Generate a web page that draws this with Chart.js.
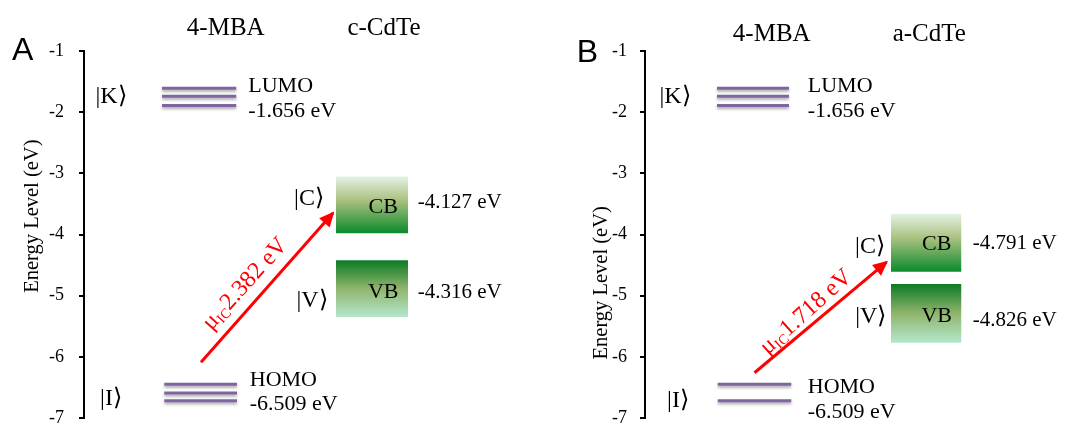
<!DOCTYPE html>
<html>
<head>
<meta charset="utf-8">
<script src="https://cdn.jsdelivr.net/npm/chart.js@4.4.1/dist/chart.umd.min.js"></script>
<style>
  html, body { margin: 0; padding: 0; background: #fff; }
  #wrap { position: relative; width: 1068px; height: 426px; }
  canvas { position: absolute; top: 0; }
  #panelA { left: 0; }
  #panelB { left: 534px; }
</style>
</head>
<body>
<div id="wrap">
  <canvas id="panelA" width="534" height="426"></canvas>
  <canvas id="panelB" width="534" height="426"></canvas>
</div>
<script>
const yTicks = [-1, -2, -3, -4, -5, -6, -7];

// Panel A: 4-MBA / c-CdTe
const lumoLevelsA = [-1.61, -1.74, -1.89];
const homoLevelsA = [-6.45, -6.59, -6.72];
const lumoSpanA = [1.04, 2.03];
const homoSpanA = [1.07, 2.04];
const bandSpanA = [3.36, 4.32];
const cbA = [-3.05, -3.98];
const vbA = [-4.42, -5.35];
const arrowXA = [1.56, 3.32];
const arrowYA = [-6.09, -3.65];
const energyLabelsA = ['-1.656 eV', '-6.509 eV', '-4.127 eV', '-4.316 eV'];
const gapA = '2.382 eV';

// Panel B: 4-MBA / a-CdTe
const lumoLevelsB = [-1.61, -1.74, -1.89];
const homoLevelsB = [-6.45, -6.72];
const lumoSpanB = [0.96, 1.92];
const homoSpanB = [0.97, 1.95];
const bandSpanB = [3.28, 4.22];
const cbB = [-3.66, -4.61];
const vbB = [-4.81, -5.77];
const arrowXB = [1.46, 3.22];
const arrowYB = [-6.26, -4.45];
const energyLabelsB = ['-1.656 eV', '-6.509 eV', '-4.791 eV', '-4.826 eV'];
const gapB = '1.718 eV';

const SERIF = "'Liberation Serif', 'Times New Roman', serif";
const SANS = "'Liberation Sans', Arial, sans-serif";
const PURPLE = '#8064a2';
const CB_STOPS = [[0, '#e4f2e4'], [0.42, '#a9c17f'], [1, '#0b8a2c']];
const VB_STOPS = [[0, '#0c7a24'], [0.5, '#8fb56c'], [1, '#b4e7cd']];

function bandFill(top, bottom, stops) {
  return (context) => {
    const chart = context.chart;
    const y = chart.scales.y;
    if (!chart.chartArea || !y) return stops[1][1];
    const g = chart.ctx.createLinearGradient(0, y.getPixelForValue(top), 0, y.getPixelForValue(bottom));
    stops.forEach(s => g.addColorStop(s[0], s[1]));
    return g;
  };
}

function levelSet(span, e) {
  return {
    data: [{ x: span[0], y: e }, { x: span[1], y: e }],
    borderColor: PURPLE, borderWidth: 3, pointRadius: 0, shadow: true
  };
}

function bandSet(span, edges, stops) {
  return {
    data: [{ x: span[0], y: edges[0] }, { x: span[1], y: edges[0] }],
    fill: { value: edges[1] },
    backgroundColor: bandFill(edges[0], edges[1], stops),
    borderColor: 'rgba(0,0,0,0)', borderWidth: 0, pointRadius: 0
  };
}

function arrowSet(xs, ys) {
  return {
    data: xs.map((x, i) => ({ x, y: ys[i] })),
    borderColor: '#ff0000', borderWidth: 3, pointRadius: 0, arrow: true
  };
}

function drawNotes(chart, notes) {
  const { ctx, scales: { x, y } } = chart;
  notes.forEach(n => {
    const px = x.getPixelForValue(n.x), py = y.getPixelForValue(n.y);
    const parts = n.parts || [{ t: n.t }];
    ctx.save();
    ctx.translate(px, py);
    if (n.rot) ctx.rotate(n.rot * Math.PI / 180);
    ctx.fillStyle = n.color || '#000';
    ctx.textBaseline = n.baseline || 'alphabetic';
    ctx.textAlign = 'left';
    const widths = parts.map(p => {
      ctx.font = `${p.size || n.size}px ${n.family || SERIF}`;
      return ctx.measureText(p.t).width;
    });
    const total = widths.reduce((a, b) => a + b, 0);
    let cx = n.align === 'left' ? 0 : n.align === 'right' ? -total : -total / 2;
    parts.forEach((p, i) => {
      ctx.font = `${p.size || n.size}px ${n.family || SERIF}`;
      ctx.fillText(p.t, cx, p.dy || 0);
      cx += widths[i];
    });
    ctx.restore();
  });
}

const levelStyle = {
  id: 'levelStyle',
  beforeDatasetDraw(chart, args) {
    const ds = chart.data.datasets[args.index];
    if (ds.shadow) {
      const c = chart.ctx;
      c.save();
      c.shadowColor = 'rgba(0,0,0,0.35)';
      c.shadowBlur = 3;
      c.shadowOffsetY = 2;
    }
  },
  afterDatasetDraw(chart, args) {
    const ds = chart.data.datasets[args.index];
    if (ds.shadow) chart.ctx.restore();
    if (ds.arrow) {
      const pts = chart.getDatasetMeta(args.index).data;
      const a = pts[0], b = pts[pts.length - 1];
      const ang = Math.atan2(b.y - a.y, b.x - a.x);
      const c = chart.ctx;
      c.save();
      c.translate(b.x, b.y);
      c.rotate(ang);
      c.fillStyle = ds.borderColor;
      c.beginPath();
      c.moveTo(2, 0);
      c.lineTo(-13, -7);
      c.lineTo(-13, 7);
      c.closePath();
      c.fill();
      c.restore();
    }
  }
};

function buildPanel(id, p) {
  const datasets = [
    ...p.lumo.map(e => levelSet(p.lumoSpan, e)),
    ...p.homo.map(e => levelSet(p.homoSpan, e)),
    bandSet(p.bandSpan, p.cb, CB_STOPS),
    bandSet(p.bandSpan, p.vb, VB_STOPS),
    arrowSet(p.arrowX, p.arrowY)
  ];
  return new Chart(document.getElementById(id), {
    type: 'line',
    data: { datasets },
    options: {
      responsive: false,
      devicePixelRatio: 1,
      animation: false,
      layout: { autoPadding: false, padding: { top: 51, bottom: 8, left: 0, right: 0 } },
      plugins: { legend: { display: false }, tooltip: { enabled: false } },
      scales: {
        x: { type: 'linear', min: 0, max: p.xMax, display: false },
        y: {
          type: 'linear', min: -7, max: -1,
          afterFit(scale) {
            scale.width = p.axisLeft;
            scale.paddingTop = 0;
            scale.paddingBottom = 0;
          },
          afterBuildTicks(scale) { scale.ticks = yTicks.map(v => ({ value: v })); },
          border: { display: true, color: '#000', width: 2 },
          grid: { drawOnChartArea: false, drawTicks: true, tickLength: 5, color: '#000', lineWidth: 2 },
          ticks: { color: '#000', padding: p.tickPad, font: { family: SERIF, size: 18 } }
        }
      }
    },
    plugins: [levelStyle, { id: 'notes', afterDraw: chart => drawNotes(chart, p.notes) }]
  });
}

buildPanel('panelA', {
  xMax: 6, axisLeft: 84, tickPad: 15,
  lumo: lumoLevelsA, homo: homoLevelsA, lumoSpan: lumoSpanA, homoSpan: homoSpanA,
  bandSpan: bandSpanA, cb: cbA, vb: vbA, arrowX: arrowXA, arrowY: arrowYA,
  notes: [
    { t: 'A', x: -0.96, y: -1.15, size: 32, family: SANS, align: 'left' },
    { t: '4-MBA', x: 1.89, y: -0.74, size: 25 },
    { t: 'c-CdTe', x: 4.0, y: -0.74, size: 25 },
    { t: 'Energy Level (eV)', x: -0.69, y: -3.70, size: 20.5, rot: -90, baseline: 'middle' },
    { t: '|K⟩', x: 0.36, y: -1.85, size: 24 },
    { t: 'LUMO', x: 2.19, y: -1.67, size: 22, align: 'left' },
    { t: energyLabelsA[0], x: 2.19, y: -2.08, size: 22, align: 'left' },
    { t: '|I⟩', x: 0.36, y: -6.79, size: 24 },
    { t: 'HOMO', x: 2.21, y: -6.47, size: 22, align: 'left' },
    { t: energyLabelsA[1], x: 2.21, y: -6.87, size: 22, align: 'left' },
    { t: '|C⟩', x: 3.0, y: -3.52, size: 24 },
    { t: 'CB', x: 3.99, y: -3.65, size: 22 },
    { t: energyLabelsA[2], x: 4.45, y: -3.56, size: 21, align: 'left' },
    { t: '|V⟩', x: 3.04, y: -5.18, size: 24 },
    { t: 'VB', x: 3.99, y: -5.03, size: 22 },
    { t: energyLabelsA[3], x: 4.45, y: -5.03, size: 21, align: 'left' },
    { x: 2.15, y: -4.81, rot: -48, baseline: 'middle', color: '#ff0000', size: 24,
      parts: [{ t: 'μ' }, { t: 'IC', size: 14, dy: 6 }, { t: gapA }] }
  ]
});

buildPanel('panelB', {
  xMax: 423 / 75, axisLeft: 111, tickPad: 13,
  lumo: lumoLevelsB, homo: homoLevelsB, lumoSpan: lumoSpanB, homoSpan: homoSpanB,
  bandSpan: bandSpanB, cb: cbB, vb: vbB, arrowX: arrowXB, arrowY: arrowYB,
  notes: [
    { t: 'B', x: -0.91, y: -1.18, size: 32, family: SANS, align: 'left' },
    { t: '4-MBA', x: 1.69, y: -0.84, size: 25 },
    { t: 'a-CdTe', x: 3.79, y: -0.84, size: 25 },
    { t: 'Energy Level (eV)', x: -0.58, y: -4.79, size: 20.5, rot: -90, baseline: 'middle' },
    { t: '|K⟩', x: 0.40, y: -1.85, size: 24 },
    { t: 'LUMO', x: 2.17, y: -1.67, size: 22, align: 'left' },
    { t: energyLabelsB[0], x: 2.17, y: -2.08, size: 22, align: 'left' },
    { t: '|I⟩', x: 0.44, y: -6.82, size: 24 },
    { t: 'HOMO', x: 2.17, y: -6.59, size: 22, align: 'left' },
    { t: energyLabelsB[1], x: 2.17, y: -7.0, size: 22, align: 'left' },
    { t: '|C⟩', x: 3.0, y: -4.30, size: 24 },
    { t: 'CB', x: 3.89, y: -4.26, size: 22 },
    { t: energyLabelsB[2], x: 4.37, y: -4.23, size: 21, align: 'left' },
    { t: '|V⟩', x: 3.01, y: -5.45, size: 24 },
    { t: 'VB', x: 3.89, y: -5.43, size: 22 },
    { t: energyLabelsB[3], x: 4.37, y: -5.50, size: 21, align: 'left' },
    { x: 2.15, y: -5.27, rot: -42, baseline: 'middle', color: '#ff0000', size: 24,
      parts: [{ t: 'μ' }, { t: 'IC', size: 14, dy: 6 }, { t: gapB }] }
  ]
});
</script>
</body>
</html>
